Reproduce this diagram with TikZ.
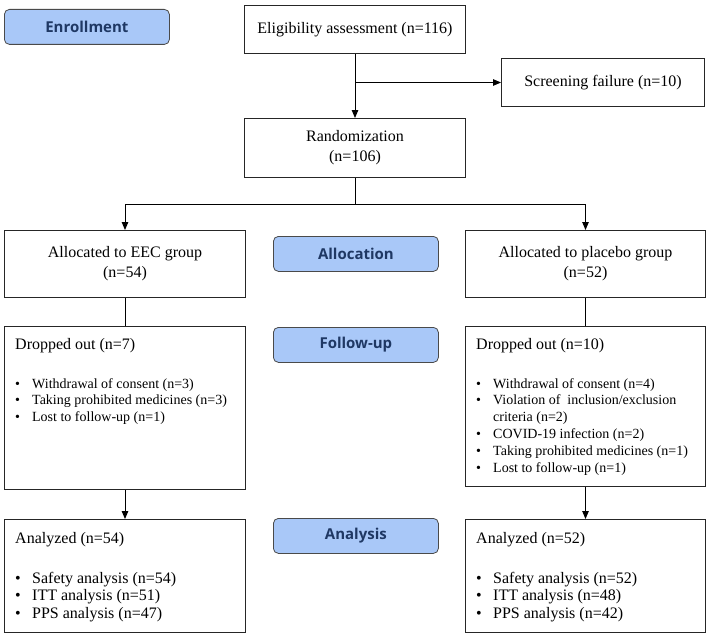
\documentclass[tikz,border=0pt]{standalone}
\usepackage{fontspec}
\setmainfont{Liberation Serif}
\newfontfamily\labfont{Open Sans}
\usetikzlibrary{arrows.meta,calc}
\definecolor{labfill}{HTML}{A9C8F8}
\definecolor{labtext}{HTML}{1F3864}
\definecolor{labedge}{HTML}{4A4A4A}
\tikzset{
  box/.style={draw=black!85, line width=1pt, inner sep=0pt, anchor=north west},
  ctext/.style={align=center, font=\fontsize{16}{20}\selectfont},
  htext/.style={inner sep=0pt, anchor=base west, font=\fontsize{16}{18}\selectfont},
  dlist/.style={inner sep=0pt, anchor=base west, font=\fontsize{14}{16.8}\selectfont},
  alist/.style={inner sep=0pt, anchor=base west, font=\fontsize{16}{17.5}\selectfont},
  phase/.style={draw=labedge, line width=0.8pt, fill=labfill, rounded corners=5pt,
    minimum width=165pt, minimum height=35pt, inner sep=0pt, anchor=north west,
    text=labtext, font=\labfont\bfseries\fontsize{15}{17}\selectfont},
  arr/.style={line width=1pt, -{Triangle[length=8pt,width=6.5pt]}},
  ln/.style={line width=1pt}
}
\newcommand{\bl}{\makebox[17pt][l]{\textbullet}}
\begin{document}
\begin{tikzpicture}[x=1pt,y=-1pt]
\useasboundingbox (0,0) rectangle (709,634);
% phase labels
\node[phase] (enr) at (4,9) {Enrollment};
\node[phase] (all) at (273,236) {Allocation};
\node[phase] (fol) at (273,327) {Follow-up};
\node[phase] (ana) at (273,518) {Analysis};
% top boxes
\node[box, ctext, minimum width=221pt, minimum height=48pt] (elig) at (244,5) {Eligibility assessment (n=116)};
\node[box, ctext, minimum width=203pt, minimum height=48pt] (scr) at (501,58) {Screening failure (n=10)};
\node[box, ctext, minimum width=221pt, minimum height=59pt] (rand) at (244,118) {Randomization\\(n=106)};
\node[box, ctext, minimum width=241pt, minimum height=67pt] (al1) at (4,230) {Allocated to EEC group\\(n=54)};
\node[box, ctext, minimum width=240pt, minimum height=67pt] (al2) at (465,230) {Allocated to placebo group\\(n=52)};
% drop and analysis boxes
\node[box, minimum width=241pt, minimum height=163pt] (dr1) at (4,326) {};
\node[box, minimum width=240pt, minimum height=160pt] (dr2) at (465,326) {};
\node[box, minimum width=241pt, minimum height=113pt] (an1) at (4,519) {};
\node[box, minimum width=240pt, minimum height=113pt] (an2) at (465,519) {};
% texts in drop / analysis boxes
\node[htext] (dr1h) at (15,349) {Dropped out (n=7)};
\node[dlist] (dr1l) at (15,388) {\begin{tabular}[t]{@{}l@{}l@{}}
\bl & Withdrawal of consent (n=3)\\
\bl & Taking prohibited medicines (n=3)\\
\bl & Lost to follow-up (n=1)\end{tabular}};
\node[htext] (dr2h) at (476,349) {Dropped out (n=10)};
\node[dlist] (dr2l) at (476,388) {\begin{tabular}[t]{@{}l@{}l@{}}
\bl & Withdrawal of consent (n=4)\\
\bl & Violation of\ \ inclusion/exclusion\\
 & criteria (n=2)\\
\bl & COVID-19 infection (n=2)\\
\bl & Taking prohibited medicines (n=1)\\
\bl & Lost to follow-up (n=1)\end{tabular}};
\node[htext] (an1h) at (15,543) {Analyzed (n=54)};
\node[alist] (an1l) at (15,583) {\begin{tabular}[t]{@{}l@{}l@{}}
\bl & Safety analysis (n=54)\\
\bl & ITT analysis (n=51)\\
\bl & PPS analysis (n=47)\end{tabular}};
\node[htext] (an2h) at (476,543) {Analyzed (n=52)};
\node[alist] (an2l) at (476,583) {\begin{tabular}[t]{@{}l@{}l@{}}
\bl & Safety analysis (n=52)\\
\bl & ITT analysis (n=48)\\
\bl & PPS analysis (n=42)\end{tabular}};
% connectors
\draw[arr] (elig.south) -- (rand.north);
\coordinate (b1) at (elig.south |- scr.west);
\draw[arr] (b1) -- (scr.west);
\coordinate (b2) at ($(rand.south)+(0,26)$);
\draw[ln] (rand.south) -- (b2);
\draw[ln] (al1.north |- b2) -- (al2.north |- b2);
\draw[arr] (al1.north |- b2) -- (al1.north);
\draw[arr] (al2.north |- b2) -- (al2.north);
\draw[ln] (al1.south) -- (dr1.north);
\draw[ln] (al2.south) -- (dr2.north);
\draw[arr] (dr1.south) -- (an1.north);
\draw[arr] (dr2.south) -- (an2.north);
\end{tikzpicture}
\end{document}
